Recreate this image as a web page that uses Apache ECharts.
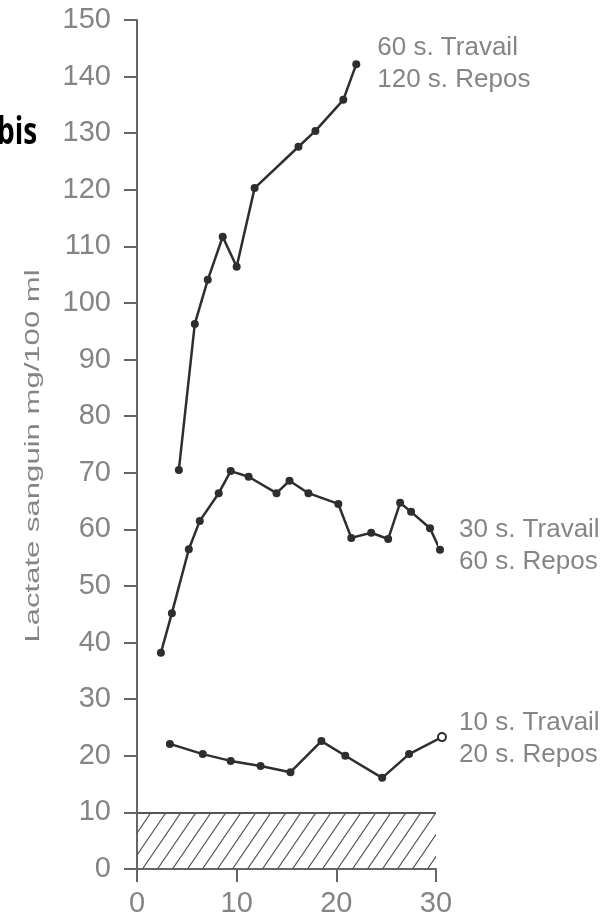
<!DOCTYPE html>
<html>
<head>
<meta charset="utf-8">
<script src="https://cdn.jsdelivr.net/npm/echarts@6/dist/echarts.min.js"></script>
<style>
  html, body { margin: 0; padding: 0; background: #fff; }
  #chart { width: 612px; height: 920px; }
</style>
</head>
<body>
<div id="chart"></div>
<script>
// durée d'exercice (min) / lactate (mg/100 ml)
const serie60_120 = [
  [4.2, 70.5], [5.8, 96.3], [7.1, 104.1], [8.6, 111.7], [10.0, 106.4],
  [11.8, 120.3], [16.2, 127.6], [17.9, 130.4], [20.7, 135.9], [22.0, 142.2],
];
const serie30_60 = [
  [2.4, 38.2], [3.5, 45.2], [5.2, 56.5], [6.3, 61.5], [8.2, 66.4], [9.4, 70.3],
  [11.2, 69.3], [14.0, 66.4], [15.3, 68.6], [17.2, 66.4], [20.2, 64.5], [21.5, 58.5],
  [23.5, 59.4], [25.2, 58.3], [26.4, 64.7], [27.5, 63.1], [29.4, 60.2], [30.4, 56.4],
];
const serie10_20 = [
  [3.3, 22.1], [6.6, 20.3], [9.4, 19.1], [12.4, 18.2], [15.4, 17.1],
  [18.5, 22.6], [20.9, 20.0], [24.6, 16.1], [27.3, 20.3], [30.6, 23.3],
];
const labels = ['60 s. Travail\n120 s. Repos', '30 s. Travail\n60 s. Repos', '10 s. Travail\n20 s. Repos'];
const zoneRepos = [0, 10]; // bande hachurée (valeur de repos)
const xTicks = [0, 30, 10];
const yTicks = [0, 150, 10];

const INK = '#2e2e2e';
const GRIS = '#858585';
const FONT = '"Liberation Sans", Arial, sans-serif';

// motif hachuré "/"
function hachures() {
  const w = 15, h = 22;
  const c = document.createElement('canvas');
  c.width = w; c.height = h;
  const ctx = c.getContext('2d');
  ctx.strokeStyle = '#555';
  ctx.lineWidth = 1.2;
  ctx.beginPath();
  ctx.moveTo(-w, 2 * h); ctx.lineTo(2 * w, -h);
  ctx.moveTo(-2 * w, 2 * h); ctx.lineTo(w, -h);
  ctx.moveTo(0, 2 * h); ctx.lineTo(3 * w, -h);
  ctx.stroke();
  return c;
}

function courbe(data, label, extra) {
  return Object.assign({
    type: 'line',
    data: data,
    clip: false,
    symbol: 'circle',
    symbolSize: 8,
    lineStyle: { color: INK, width: 2.5 },
    itemStyle: { color: INK },
    endLabel: {
      show: true,
      formatter: label,
      color: GRIS,
      fontFamily: FONT,
      fontSize: 26,
      lineHeight: 32,
      distance: 21,
      align: 'left',
      verticalAlign: 'middle',
    },
    animation: false,
  }, extra || {});
}

const chart = echarts.init(document.getElementById('chart'));

const dernier = serie10_20.length - 1;
const data10 = serie10_20.map((p, i) =>
  i === dernier ? { value: p, symbol: 'emptyCircle', symbolSize: 8, itemStyle: { color: INK, borderColor: INK } } : p
);

chart.setOption({
  backgroundColor: '#fff',
  animation: false,
  grid: { left: 137, right: 176, top: 20, bottom: 51 },
  xAxis: {
    type: 'value',
    min: xTicks[0], max: xTicks[1], interval: xTicks[2],
    axisLine: { show: true, lineStyle: { color: '#666', width: 2 } },
    axisTick: { show: true, length: 13, lineStyle: { color: '#666', width: 2 } },
    axisLabel: { color: GRIS, fontFamily: FONT, fontSize: 29, margin: 20 },
    splitLine: { show: false },
  },
  yAxis: {
    type: 'value',
    min: yTicks[0], max: yTicks[1], interval: yTicks[2],
    axisLine: { show: true, lineStyle: { color: '#666', width: 2 } },
    axisTick: { show: true, length: 13, lineStyle: { color: '#666', width: 2 } },
    axisLabel: { color: GRIS, fontFamily: FONT, fontSize: 29, margin: 26 },
    splitLine: { show: false },
  },
  graphic: [
    {
      type: 'text',
      x: 33, y: 456,
      rotation: Math.PI / 2,
      scaleX: 1.48,
      style: {
        text: 'Lactate sanguin mg/100 ml',
        font: '21px ' + FONT,
        fill: GRIS,
        align: 'center',
        verticalAlign: 'middle',
      },
    },
    {
      type: 'text',
      x: -3, y: 133,
      scaleY: 1.35,
      style: {
        text: 'bis',
        font: 'bold 28px "Open Sans", sans-serif',
        fill: '#000',
        align: 'left',
        verticalAlign: 'middle',
      },
    },
  ],
  series: [
    courbe(serie60_120, labels[0]),
    courbe(serie30_60, labels[1]),
    courbe(data10, labels[2], {
      markArea: {
        silent: true,
        itemStyle: { color: { image: hachures(), repeat: 'repeat' } },
        data: [[{ xAxis: 0, yAxis: zoneRepos[0] }, { xAxis: 30, yAxis: zoneRepos[1] }]],
      },
      markLine: {
        silent: true,
        symbol: 'none',
        label: { show: false },
        lineStyle: { color: '#555', width: 2, type: 'solid' },
        data: [{ yAxis: zoneRepos[1] }],
      },
    }),
  ],
});
</script>
</body>
</html>
